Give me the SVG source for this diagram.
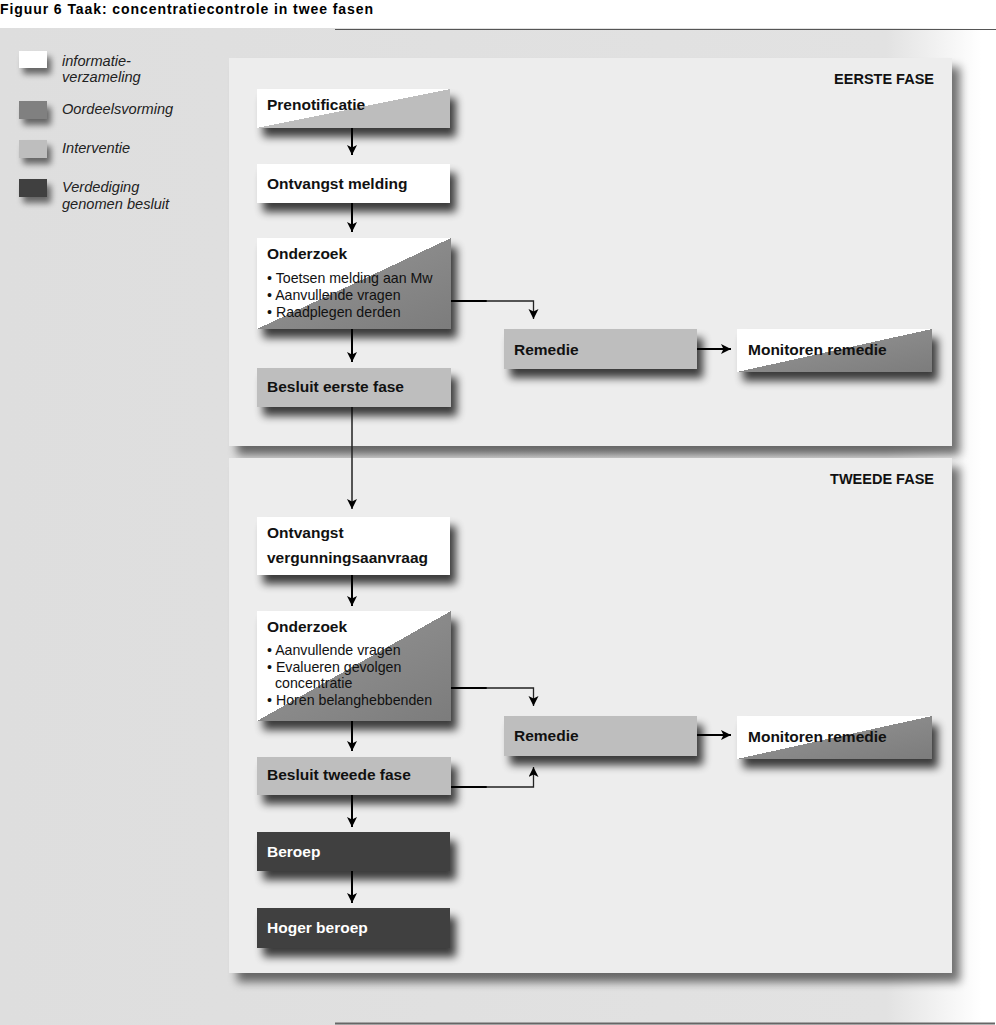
<svg xmlns="http://www.w3.org/2000/svg" width="996" height="1025" viewBox="0 0 996 1025">
<defs>
<style>
.t{font-family:"Liberation Sans",Arial,sans-serif;font-weight:bold;font-size:15.5px;fill:#111}
.tw{font-family:"Liberation Sans",Arial,sans-serif;font-weight:bold;font-size:15.5px;fill:#fff}
.b{font-family:"Liberation Sans",Arial,sans-serif;font-size:14.2px;fill:#111}
.lg{font-family:"Liberation Sans",Arial,sans-serif;font-style:italic;font-size:14.6px;fill:#222}
.ph{font-family:"Liberation Sans",Arial,sans-serif;font-weight:bold;font-size:14.5px;fill:#111}
.c{fill:none;stroke:#000;stroke-width:2}
.cn{fill:none;stroke:#222;stroke-width:1.3}
.white{fill:#fff}
.light{fill:#bebebe}
.mid{fill:#808080}
.dark{fill:#404040}
</style>
<linearGradient id="bg" x1="0" y1="0" x2="1" y2="0">
<stop offset="0" stop-color="#dedede"/>
<stop offset="0.89" stop-color="#e2e2e2"/>
<stop offset="0.985" stop-color="#ffffff"/>
</linearGradient>
<linearGradient id="gL" x1="0" y1="0" x2="1" y2="1">
<stop offset="0" stop-color="#fff"/>
<stop offset="0.5" stop-color="#fff"/>
<stop offset="0.5" stop-color="#bdbdbd"/>
<stop offset="1" stop-color="#bdbdbd"/>
</linearGradient>
<linearGradient id="gM" x1="0" y1="0" x2="1" y2="1">
<stop offset="0" stop-color="#fff"/>
<stop offset="0.5" stop-color="#fff"/>
<stop offset="0.5" stop-color="#8a8a8a"/>
<stop offset="1" stop-color="#7c7c7c"/>
</linearGradient>
<filter id="sh" x="-20%" y="-40%" width="150%" height="200%">
<feGaussianBlur in="SourceAlpha" stdDeviation="4"/>
<feOffset dx="6" dy="9"/>
<feComponentTransfer><feFuncA type="linear" slope="0.75"/></feComponentTransfer>
<feMerge><feMergeNode/><feMergeNode in="SourceGraphic"/></feMerge>
</filter>
<filter id="psh" x="-5%" y="-5%" width="115%" height="115%">
<feGaussianBlur in="SourceAlpha" stdDeviation="5"/>
<feOffset dx="8" dy="9"/>
<feComponentTransfer><feFuncA type="linear" slope="0.55"/></feComponentTransfer>
<feMerge><feMergeNode/><feMergeNode in="SourceGraphic"/></feMerge>
</filter>
<filter id="lsh" x="-40%" y="-40%" width="200%" height="250%">
<feGaussianBlur in="SourceAlpha" stdDeviation="3"/>
<feOffset dx="4" dy="6"/>
<feComponentTransfer><feFuncA type="linear" slope="0.55"/></feComponentTransfer>
<feMerge><feMergeNode/><feMergeNode in="SourceGraphic"/></feMerge>
</filter>
<marker id="ar" markerUnits="userSpaceOnUse" markerWidth="12" markerHeight="12" refX="10" refY="5" orient="auto">
<path d="M0,0 L10,5 L0,10 L2.5,5 z" fill="#000"/>
</marker>
</defs>

<rect x="0" y="0" width="996" height="1025" fill="#fff"/>
<rect x="0" y="28" width="996" height="997" fill="url(#bg)"/>
<line x1="335" y1="29.5" x2="996" y2="29.5" stroke="#555" stroke-width="1"/>
<line x1="335" y1="1023.5" x2="995" y2="1023.5" stroke="#666" stroke-width="2"/>
<text x="0" y="14" font-family="Liberation Sans, Arial, sans-serif" font-weight="bold" font-size="14" fill="#000" textLength="373" lengthAdjust="spacing">Figuur 6 Taak: concentratiecontrole in twee fasen</text>

<g id="legend">
<rect x="19" y="51" width="28" height="17" class="white" filter="url(#lsh)"/>
<text class="lg" x="62" y="66">informatie-</text>
<text class="lg" x="62" y="82">verzameling</text>
<rect x="19" y="101" width="28" height="18" class="mid" filter="url(#lsh)"/>
<text class="lg" x="62" y="114">Oordeelsvorming</text>
<rect x="19" y="140" width="28" height="18" class="light" filter="url(#lsh)"/>
<text class="lg" x="62" y="153">Interventie</text>
<rect x="19" y="179" width="28" height="18" class="dark" filter="url(#lsh)"/>
<text class="lg" x="62" y="192">Verdediging</text>
<text class="lg" x="62" y="209">genomen besluit</text>
</g>

<g id="panel1">
<rect x="229" y="58" width="723" height="388" fill="#ededed" filter="url(#psh)"/>
<text class="ph" x="934" y="84" text-anchor="end">EERSTE FASE</text>
</g>
<g id="panel2">
<rect x="229" y="458" width="723" height="515" fill="#ededed" filter="url(#psh)"/>
<text class="ph" x="934" y="484" text-anchor="end">TWEEDE FASE</text>
</g>

<g id="connectors">
<line class="c" x1="352" y1="128" x2="352" y2="155" marker-end="url(#ar)"/>
<line class="c" x1="352" y1="203" x2="352" y2="232" marker-end="url(#ar)"/>
<line class="c" x1="352" y1="329" x2="352" y2="362" marker-end="url(#ar)"/>
<line x1="352" y1="407" x2="352" y2="509" stroke="#222" stroke-width="1.5" marker-end="url(#ar)"/>
<line class="c" x1="352" y1="575" x2="352" y2="606" marker-end="url(#ar)"/>
<line class="c" x1="352" y1="721" x2="352" y2="751" marker-end="url(#ar)"/>
<line class="c" x1="352" y1="795" x2="352" y2="827" marker-end="url(#ar)"/>
<line class="c" x1="352" y1="871" x2="352" y2="903" marker-end="url(#ar)"/>
<line x1="451" y1="301" x2="487" y2="301" stroke="#000" stroke-width="2"/>
<path class="cn" d="M486,301 H533.5 V319" marker-end="url(#ar)"/>
<line class="c" x1="697" y1="349" x2="731" y2="349" marker-end="url(#ar)"/>
<line x1="451" y1="688" x2="487" y2="688" stroke="#000" stroke-width="2"/>
<path class="cn" d="M486,688 H533.5 V706" marker-end="url(#ar)"/>
<line x1="451" y1="787" x2="487" y2="787" stroke="#000" stroke-width="2"/>
<path class="cn" d="M486,787 H533.5 V767" marker-end="url(#ar)"/>
<line class="c" x1="697" y1="735" x2="731" y2="735" marker-end="url(#ar)"/>
</g>

<g id="prenotificatie">
<rect x="257" y="89" width="193" height="39" fill="url(#gL)" filter="url(#sh)"/>
<text class="t" x="267" y="110">Prenotificatie</text>
</g>
<g id="ontvangst-melding">
<rect x="257" y="164" width="193" height="39" class="white" filter="url(#sh)"/>
<text class="t" x="267" y="189">Ontvangst melding</text>
</g>
<g id="onderzoek1">
<rect x="257" y="238" width="194" height="91" fill="url(#gM)" filter="url(#sh)"/>
<text class="t" x="267" y="259">Onderzoek</text>
<text class="b" x="267" y="283">• Toetsen melding aan Mw</text>
<text class="b" x="267" y="300">• Aanvullende vragen</text>
<text class="b" x="267" y="317">• Raadplegen derden</text>
</g>
<g id="besluit-eerste-fase">
<rect x="257" y="368" width="194" height="39" class="light" filter="url(#sh)"/>
<text class="t" x="267" y="392">Besluit eerste fase</text>
</g>
<g id="remedie1">
<rect x="504" y="329" width="193" height="40" class="light" filter="url(#sh)"/>
<text class="t" x="514" y="355">Remedie</text>
</g>
<g id="monitoren1">
<rect x="737" y="329" width="195" height="43" fill="url(#gM)" filter="url(#sh)"/>
<text class="t" x="748" y="355">Monitoren remedie</text>
</g>

<g id="ontvangst-vergunningsaanvraag">
<rect x="257" y="517" width="193" height="58" class="white" filter="url(#sh)"/>
<text class="t" x="267" y="538">Ontvangst</text>
<text class="t" x="267" y="563">vergunningsaanvraag</text>
</g>
<g id="onderzoek2">
<rect x="257" y="611" width="194" height="110" fill="url(#gM)" filter="url(#sh)"/>
<text class="t" x="267" y="632">Onderzoek</text>
<text class="b" x="267" y="655">• Aanvullende vragen</text>
<text class="b" x="267" y="672">• Evalueren gevolgen</text>
<text class="b" x="275" y="688">concentratie</text>
<text class="b" x="267" y="705">• Horen belanghebbenden</text>
</g>
<g id="besluit-tweede-fase">
<rect x="257" y="757" width="194" height="38" class="light" filter="url(#sh)"/>
<text class="t" x="267" y="780">Besluit tweede fase</text>
</g>
<g id="remedie2">
<rect x="504" y="716" width="193" height="40" class="light" filter="url(#sh)"/>
<text class="t" x="514" y="741">Remedie</text>
</g>
<g id="monitoren2">
<rect x="737" y="716" width="195" height="43" fill="url(#gM)" filter="url(#sh)"/>
<text class="t" x="748" y="742">Monitoren remedie</text>
</g>
<g id="beroep">
<rect x="257" y="832" width="193" height="39" class="dark" filter="url(#sh)"/>
<text class="tw" x="267" y="857">Beroep</text>
</g>
<g id="hoger-beroep">
<rect x="257" y="908" width="193" height="40" class="dark" filter="url(#sh)"/>
<text class="tw" x="267" y="933">Hoger beroep</text>
</g>
</svg>
